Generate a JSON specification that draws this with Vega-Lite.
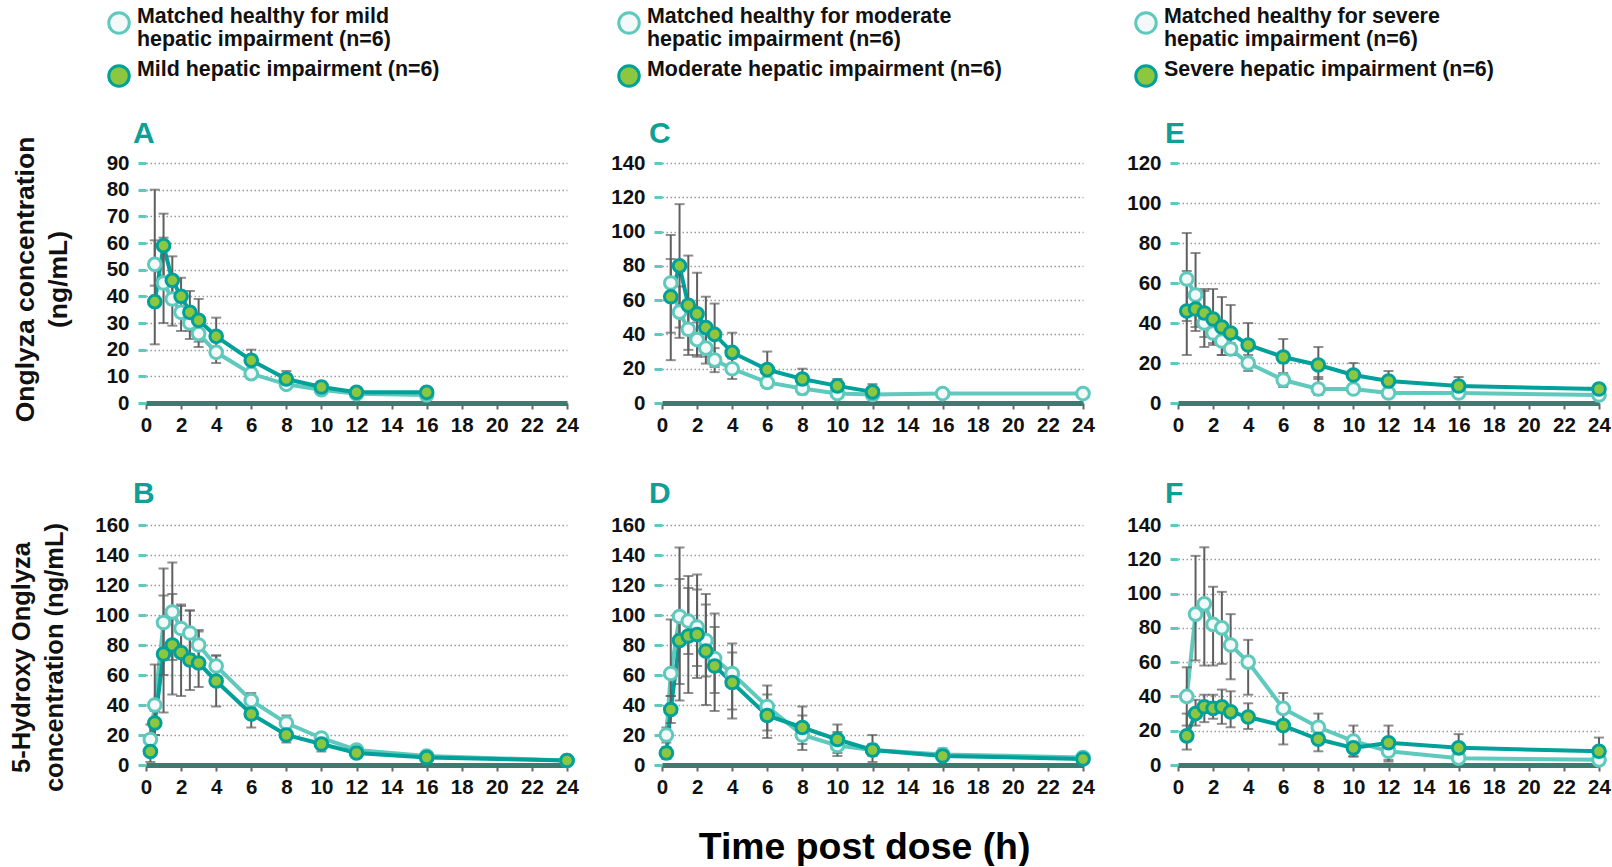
{
  "$schema": "https://vega.github.io/schema/vega-lite/v6.json",
  "padding": {"left": 9, "top": 11, "right": 2, "bottom": 0},
  "background": "white",
  "config": {
    "font": "Liberation Sans",
    "view": {"stroke": null},
    "axis": {"labelFont": "Liberation Sans", "labelFontSize": 20.5, "labelFontWeight": "bold", "labelColor": "#111", "titleFont": "Liberation Sans", "titleFontSize": 26.5, "titleFontWeight": "bold", "titleColor": "#111", "labelFlush": false, "labelOverlap": false},
    "axisX": {"domainColor": "#3d7b71", "domainWidth": 5, "tickColor": "#666", "tickSize": 6, "tickWidth": 2, "grid": false, "labelPadding": 6},
    "axisY": {"domain": false, "tickColor": "#5ec9bc", "tickWidth": 3, "tickSize": 8, "labelPadding": 9, "grid": true, "gridColor": "#9a9a9a", "gridDash": [1.5, 2.5], "gridWidth": 1.5, "titleLineHeight": 33},
    "title": {"font": "Liberation Sans", "fontSize": 30, "fontWeight": "bold", "color": "#0e9f97", "anchor": "start", "frame": "group", "dx": -13}
  },
  "datasets": {
    "pk": [
      {"panel":"A","series":"healthy","t":0.5,"y":52,"lo":44,"hi":61},
      {"panel":"A","series":"healthy","t":1,"y":45,"lo":30,"hi":62},
      {"panel":"A","series":"healthy","t":1.5,"y":39,"lo":29,"hi":47},
      {"panel":"A","series":"healthy","t":2,"y":34,"lo":27,"hi":41},
      {"panel":"A","series":"healthy","t":2.5,"y":30,"lo":24,"hi":36},
      {"panel":"A","series":"healthy","t":3,"y":26,"lo":21,"hi":31},
      {"panel":"A","series":"healthy","t":4,"y":19,"lo":15,"hi":23},
      {"panel":"A","series":"healthy","t":6,"y":11,"lo":9,"hi":13},
      {"panel":"A","series":"healthy","t":8,"y":7,"lo":6,"hi":9},
      {"panel":"A","series":"healthy","t":10,"y":5,"lo":4,"hi":6},
      {"panel":"A","series":"healthy","t":12,"y":3.5,"lo":3,"hi":4},
      {"panel":"A","series":"healthy","t":16,"y":3,"lo":2.5,"hi":3.5},
      {"panel":"A","series":"impaired","t":0.5,"y":38,"lo":22,"hi":80},
      {"panel":"A","series":"impaired","t":1,"y":59,"lo":47,"hi":71},
      {"panel":"A","series":"impaired","t":1.5,"y":46,"lo":37,"hi":55},
      {"panel":"A","series":"impaired","t":2,"y":40,"lo":33,"hi":47},
      {"panel":"A","series":"impaired","t":2.5,"y":34,"lo":27,"hi":42},
      {"panel":"A","series":"impaired","t":3,"y":31,"lo":23,"hi":39},
      {"panel":"A","series":"impaired","t":4,"y":25,"lo":18,"hi":32},
      {"panel":"A","series":"impaired","t":6,"y":16,"lo":12,"hi":20},
      {"panel":"A","series":"impaired","t":8,"y":9,"lo":6,"hi":12},
      {"panel":"A","series":"impaired","t":10,"y":6,"lo":4,"hi":8},
      {"panel":"A","series":"impaired","t":12,"y":4,"lo":3,"hi":5},
      {"panel":"A","series":"impaired","t":16,"y":4,"lo":3,"hi":5},

      {"panel":"B","series":"healthy","t":0.25,"y":17,"lo":10,"hi":27},
      {"panel":"B","series":"healthy","t":0.5,"y":40,"lo":20,"hi":67},
      {"panel":"B","series":"healthy","t":1,"y":95,"lo":60,"hi":131},
      {"panel":"B","series":"healthy","t":1.5,"y":102,"lo":70,"hi":114},
      {"panel":"B","series":"healthy","t":2,"y":91,"lo":75,"hi":107},
      {"panel":"B","series":"healthy","t":2.5,"y":88,"lo":74,"hi":103},
      {"panel":"B","series":"healthy","t":3,"y":80,"lo":70,"hi":90},
      {"panel":"B","series":"healthy","t":4,"y":66,"lo":58,"hi":73},
      {"panel":"B","series":"healthy","t":6,"y":43,"lo":38,"hi":48},
      {"panel":"B","series":"healthy","t":8,"y":28,"lo":24,"hi":33},
      {"panel":"B","series":"healthy","t":10,"y":18,"lo":15,"hi":21},
      {"panel":"B","series":"healthy","t":12,"y":10,"lo":8,"hi":12},
      {"panel":"B","series":"healthy","t":16,"y":6,"lo":5,"hi":7},
      {"panel":"B","series":"healthy","t":24,"y":3,"lo":2,"hi":4},
      {"panel":"B","series":"impaired","t":0.25,"y":9,"lo":2,"hi":16},
      {"panel":"B","series":"impaired","t":0.5,"y":28,"lo":20,"hi":36},
      {"panel":"B","series":"impaired","t":1,"y":74,"lo":35,"hi":113},
      {"panel":"B","series":"impaired","t":1.5,"y":80,"lo":47,"hi":135},
      {"panel":"B","series":"impaired","t":2,"y":75,"lo":46,"hi":106},
      {"panel":"B","series":"impaired","t":2.5,"y":70,"lo":50,"hi":103},
      {"panel":"B","series":"impaired","t":3,"y":68,"lo":52,"hi":89},
      {"panel":"B","series":"impaired","t":4,"y":56,"lo":39,"hi":73},
      {"panel":"B","series":"impaired","t":6,"y":34,"lo":25,"hi":43},
      {"panel":"B","series":"impaired","t":8,"y":20,"lo":15,"hi":25},
      {"panel":"B","series":"impaired","t":10,"y":14,"lo":9,"hi":19},
      {"panel":"B","series":"impaired","t":12,"y":8,"lo":6,"hi":10},
      {"panel":"B","series":"impaired","t":16,"y":5,"lo":4,"hi":6},
      {"panel":"B","series":"impaired","t":24,"y":3,"lo":2,"hi":4},

      {"panel":"C","series":"healthy","t":0.5,"y":70,"lo":41,"hi":84},
      {"panel":"C","series":"healthy","t":1,"y":53,"lo":38,"hi":68},
      {"panel":"C","series":"healthy","t":1.5,"y":43,"lo":31,"hi":55},
      {"panel":"C","series":"healthy","t":2,"y":37,"lo":27,"hi":47},
      {"panel":"C","series":"healthy","t":2.5,"y":32,"lo":23,"hi":41},
      {"panel":"C","series":"healthy","t":3,"y":25,"lo":18,"hi":32},
      {"panel":"C","series":"healthy","t":4,"y":20,"lo":14,"hi":26},
      {"panel":"C","series":"healthy","t":6,"y":12,"lo":9,"hi":15},
      {"panel":"C","series":"healthy","t":8,"y":8.5,"lo":5,"hi":12},
      {"panel":"C","series":"healthy","t":10,"y":5.5,"lo":3,"hi":8},
      {"panel":"C","series":"healthy","t":12,"y":5,"lo":4,"hi":6},
      {"panel":"C","series":"healthy","t":16,"y":5.5,"lo":4.5,"hi":6.5},
      {"panel":"C","series":"healthy","t":24,"y":5.5,"lo":4.5,"hi":6.5},
      {"panel":"C","series":"impaired","t":0.5,"y":62,"lo":25,"hi":98},
      {"panel":"C","series":"impaired","t":1,"y":80,"lo":44,"hi":116},
      {"panel":"C","series":"impaired","t":1.5,"y":57,"lo":28,"hi":86},
      {"panel":"C","series":"impaired","t":2,"y":52,"lo":28,"hi":76},
      {"panel":"C","series":"impaired","t":2.5,"y":44,"lo":27,"hi":62},
      {"panel":"C","series":"impaired","t":3,"y":40,"lo":21,"hi":58},
      {"panel":"C","series":"impaired","t":4,"y":29.5,"lo":18,"hi":41},
      {"panel":"C","series":"impaired","t":6,"y":19.5,"lo":9,"hi":30},
      {"panel":"C","series":"impaired","t":8,"y":14,"lo":8,"hi":20},
      {"panel":"C","series":"impaired","t":10,"y":10,"lo":6,"hi":14},
      {"panel":"C","series":"impaired","t":12,"y":6.5,"lo":2,"hi":11},

      {"panel":"D","series":"healthy","t":0.25,"y":20,"lo":15,"hi":25},
      {"panel":"D","series":"healthy","t":0.5,"y":61,"lo":46,"hi":97},
      {"panel":"D","series":"healthy","t":1,"y":99,"lo":54,"hi":145},
      {"panel":"D","series":"healthy","t":1.5,"y":96,"lo":74,"hi":118},
      {"panel":"D","series":"healthy","t":2,"y":92,"lo":66,"hi":117},
      {"panel":"D","series":"healthy","t":2.5,"y":83,"lo":59,"hi":107},
      {"panel":"D","series":"healthy","t":3,"y":71,"lo":48,"hi":92},
      {"panel":"D","series":"healthy","t":4,"y":61,"lo":37,"hi":75},
      {"panel":"D","series":"healthy","t":6,"y":39,"lo":23,"hi":53},
      {"panel":"D","series":"healthy","t":8,"y":20,"lo":10,"hi":33},
      {"panel":"D","series":"healthy","t":10,"y":13,"lo":6,"hi":22},
      {"panel":"D","series":"healthy","t":12,"y":10,"lo":6,"hi":14},
      {"panel":"D","series":"healthy","t":16,"y":7,"lo":5,"hi":11},
      {"panel":"D","series":"healthy","t":24,"y":5,"lo":4,"hi":6},
      {"panel":"D","series":"impaired","t":0.25,"y":8,"lo":4,"hi":12},
      {"panel":"D","series":"impaired","t":0.5,"y":37,"lo":28,"hi":46},
      {"panel":"D","series":"impaired","t":1,"y":83,"lo":43,"hi":124},
      {"panel":"D","series":"impaired","t":1.5,"y":86,"lo":48,"hi":126},
      {"panel":"D","series":"impaired","t":2,"y":87,"lo":58,"hi":127},
      {"panel":"D","series":"impaired","t":2.5,"y":76,"lo":40,"hi":114},
      {"panel":"D","series":"impaired","t":3,"y":66,"lo":36,"hi":101},
      {"panel":"D","series":"impaired","t":4,"y":55,"lo":31,"hi":81},
      {"panel":"D","series":"impaired","t":6,"y":33,"lo":18,"hi":47},
      {"panel":"D","series":"impaired","t":8,"y":25,"lo":14,"hi":39},
      {"panel":"D","series":"impaired","t":10,"y":17,"lo":8,"hi":27},
      {"panel":"D","series":"impaired","t":12,"y":10,"lo":2,"hi":20},
      {"panel":"D","series":"impaired","t":16,"y":6,"lo":4,"hi":8},
      {"panel":"D","series":"impaired","t":24,"y":4,"lo":3,"hi":5},

      {"panel":"E","series":"healthy","t":0.5,"y":62,"lo":41,"hi":85},
      {"panel":"E","series":"healthy","t":1,"y":54,"lo":36,"hi":75},
      {"panel":"E","series":"healthy","t":1.5,"y":40,"lo":28,"hi":56},
      {"panel":"E","series":"healthy","t":2,"y":35,"lo":29,"hi":41},
      {"panel":"E","series":"healthy","t":2.5,"y":31,"lo":24,"hi":38},
      {"panel":"E","series":"healthy","t":3,"y":27,"lo":24,"hi":30},
      {"panel":"E","series":"healthy","t":4,"y":20,"lo":16,"hi":24},
      {"panel":"E","series":"healthy","t":6,"y":11.5,"lo":8,"hi":15},
      {"panel":"E","series":"healthy","t":8,"y":7,"lo":4,"hi":13},
      {"panel":"E","series":"healthy","t":10,"y":7,"lo":5,"hi":9},
      {"panel":"E","series":"healthy","t":12,"y":5,"lo":4,"hi":6},
      {"panel":"E","series":"healthy","t":16,"y":5,"lo":4,"hi":6},
      {"panel":"E","series":"healthy","t":24,"y":4,"lo":3,"hi":5},
      {"panel":"E","series":"impaired","t":0.5,"y":46,"lo":24,"hi":66},
      {"panel":"E","series":"impaired","t":1,"y":47,"lo":38,"hi":56},
      {"panel":"E","series":"impaired","t":1.5,"y":45,"lo":33,"hi":57},
      {"panel":"E","series":"impaired","t":2,"y":42,"lo":30,"hi":57},
      {"panel":"E","series":"impaired","t":2.5,"y":38,"lo":24,"hi":53},
      {"panel":"E","series":"impaired","t":3,"y":35,"lo":24,"hi":49},
      {"panel":"E","series":"impaired","t":4,"y":29,"lo":20,"hi":40},
      {"panel":"E","series":"impaired","t":6,"y":23,"lo":14,"hi":32},
      {"panel":"E","series":"impaired","t":8,"y":19,"lo":12,"hi":28},
      {"panel":"E","series":"impaired","t":10,"y":14,"lo":8,"hi":20},
      {"panel":"E","series":"impaired","t":12,"y":11,"lo":6,"hi":16},
      {"panel":"E","series":"impaired","t":16,"y":8.5,"lo":4,"hi":13},
      {"panel":"E","series":"impaired","t":24,"y":7,"lo":5,"hi":9},

      {"panel":"F","series":"healthy","t":0.5,"y":40,"lo":23,"hi":57},
      {"panel":"F","series":"healthy","t":1,"y":88,"lo":61,"hi":122},
      {"panel":"F","series":"healthy","t":1.5,"y":94,"lo":58,"hi":127},
      {"panel":"F","series":"healthy","t":2,"y":82,"lo":58,"hi":104},
      {"panel":"F","series":"healthy","t":2.5,"y":80,"lo":59,"hi":101},
      {"panel":"F","series":"healthy","t":3,"y":70,"lo":50,"hi":88},
      {"panel":"F","series":"healthy","t":4,"y":60,"lo":41,"hi":73},
      {"panel":"F","series":"healthy","t":6,"y":33,"lo":24,"hi":42},
      {"panel":"F","series":"healthy","t":8,"y":22,"lo":14,"hi":30},
      {"panel":"F","series":"healthy","t":10,"y":14,"lo":5,"hi":23},
      {"panel":"F","series":"healthy","t":12,"y":8,"lo":2,"hi":14},
      {"panel":"F","series":"healthy","t":16,"y":4,"lo":2,"hi":6},
      {"panel":"F","series":"healthy","t":24,"y":3,"lo":2,"hi":4},
      {"panel":"F","series":"impaired","t":0.5,"y":17,"lo":9,"hi":30},
      {"panel":"F","series":"impaired","t":1,"y":30,"lo":23,"hi":38},
      {"panel":"F","series":"impaired","t":1.5,"y":34,"lo":25,"hi":41},
      {"panel":"F","series":"impaired","t":2,"y":33,"lo":27,"hi":41},
      {"panel":"F","series":"impaired","t":2.5,"y":34,"lo":24,"hi":44},
      {"panel":"F","series":"impaired","t":3,"y":31,"lo":22,"hi":43},
      {"panel":"F","series":"impaired","t":4,"y":28,"lo":21,"hi":36},
      {"panel":"F","series":"impaired","t":6,"y":23,"lo":12,"hi":33},
      {"panel":"F","series":"impaired","t":8,"y":15,"lo":8,"hi":22},
      {"panel":"F","series":"impaired","t":10,"y":10,"lo":5,"hi":15},
      {"panel":"F","series":"impaired","t":12,"y":13,"lo":3,"hi":23},
      {"panel":"F","series":"impaired","t":16,"y":10,"lo":2,"hi":18},
      {"panel":"F","series":"impaired","t":24,"y":8,"lo":0,"hi":16}
    ]
  },
  "data": {"name": "pk"},
  "title": {"text": "Time post dose (h)", "orient": "bottom", "anchor": "middle", "frame": "bounds", "fontSize": 37.4, "fontWeight": "bold", "color": "#000", "dx": 54, "offset": 31},
  "columns": 3,
  "spacing": {"row": 122, "column": 95},
  "bounds": "flush",
  "resolve": {"scale": {"x": "independent", "y": "independent", "fill": "independent", "stroke": "independent"}, "legend": {"fill": "independent", "stroke": "independent"}},
  "concat": [
    {
      "width": 421, "height": 240,
      "title": {"text": "A", "offset": -138},
      "transform": [{"filter": "datum.panel === 'A'"}],
      "encoding": {"x": {"field": "t", "type": "quantitative", "scale": {"domain": [0, 24], "nice": false}, "axis": {"values": [0,2,4,6,8,10,12,14,16,18,20,22,24], "title": null}}},
      "layer": [
        {"mark": {"type": "line", "strokeWidth": 4},
         "encoding": {"y": {"field": "y", "type": "quantitative", "scale": {"domain": [0, 90], "nice": false}, "axis": {"values": [0,10,20,30,40,50,60,70,80,90], "title": ["Onglyza concentration", "(ng/mL)"], "titlePadding": 34, "titleY": 116}},
           "stroke": {"field": "series", "type": "nominal", "scale": {"domain": ["healthy", "impaired"], "range": ["#5ec9bc", "#00a19a"]}}}},
        {"mark": {"type": "errorbar", "color": "#5f5f5f", "thickness": 2, "ticks": {"size": 10, "thickness": 2, "color": "#5f5f5f"}},
         "encoding": {"y": {"field": "lo", "type": "quantitative", "scale": {"domain": [0, 90], "nice": false}, "axis": {"values": [0,10,20,30,40,50,60,70,80,90], "title": ["Onglyza concentration", "(ng/mL)"], "titlePadding": 34, "titleY": 116}}, "y2": {"field": "hi"}}},
        {"mark": {"type": "point", "shape": "circle", "filled": true, "size": 160, "strokeWidth": 3, "opacity": 1},
         "encoding": {"y": {"field": "y", "type": "quantitative", "scale": {"domain": [0, 90], "nice": false}, "axis": {"values": [0,10,20,30,40,50,60,70,80,90], "title": ["Onglyza concentration", "(ng/mL)"], "titlePadding": 34, "titleY": 116}},
           "fill": {"field": "series", "type": "nominal", "scale": {"domain": ["healthy", "impaired"], "range": ["#f2f9f8", "#8dc63f"]},
             "legend": {"orient": "none", "legendX": -39, "legendY": -152, "title": null, "padding": 0, "symbolType": "circle", "symbolSize": 420, "symbolStrokeWidth": 3, "labelFont": "Liberation Sans", "labelFontSize": 21.4, "labelFontWeight": "bold", "labelColor": "#111", "labelLimit": 700, "labelOffset": 6, "rowPadding": 8, "labelBaseline": "alphabetic",
               "labelExpr": "datum.value === 'healthy' ? ['Matched healthy for mild', 'hepatic impairment (n=6)'] : 'Mild hepatic impairment (n=6)'"}},
           "stroke": {"field": "series", "type": "nominal", "scale": {"domain": ["healthy", "impaired"], "range": ["#5ec9bc", "#00a19a"]},
             "legend": {"orient": "none", "legendX": -39, "legendY": -152, "title": null, "padding": 0, "symbolType": "circle", "symbolSize": 420, "symbolStrokeWidth": 3, "labelFont": "Liberation Sans", "labelFontSize": 21.4, "labelFontWeight": "bold", "labelColor": "#111", "labelLimit": 700, "labelOffset": 6, "rowPadding": 8, "labelBaseline": "alphabetic",
               "labelExpr": "datum.value === 'healthy' ? ['Matched healthy for mild', 'hepatic impairment (n=6)'] : 'Mild hepatic impairment (n=6)'"}}}}
      ]
    },
    {
      "width": 421, "height": 240,
      "title": {"text": "C", "offset": -138},
      "transform": [{"filter": "datum.panel === 'C'"}],
      "encoding": {"x": {"field": "t", "type": "quantitative", "scale": {"domain": [0, 24], "nice": false}, "axis": {"values": [0,2,4,6,8,10,12,14,16,18,20,22,24], "title": null}}},
      "layer": [
        {"mark": {"type": "line", "strokeWidth": 4},
         "encoding": {"y": {"field": "y", "type": "quantitative", "scale": {"domain": [0, 140], "nice": false}, "axis": {"values": [0,20,40,60,80,100,120,140], "title": null}},
           "stroke": {"field": "series", "type": "nominal", "scale": {"domain": ["healthy", "impaired"], "range": ["#5ec9bc", "#00a19a"]}}}},
        {"mark": {"type": "errorbar", "color": "#5f5f5f", "thickness": 2, "ticks": {"size": 10, "thickness": 2, "color": "#5f5f5f"}},
         "encoding": {"y": {"field": "lo", "type": "quantitative", "scale": {"domain": [0, 140], "nice": false}, "axis": {"values": [0,20,40,60,80,100,120,140], "title": null}}, "y2": {"field": "hi"}}},
        {"mark": {"type": "point", "shape": "circle", "filled": true, "size": 160, "strokeWidth": 3, "opacity": 1},
         "encoding": {"y": {"field": "y", "type": "quantitative", "scale": {"domain": [0, 140], "nice": false}, "axis": {"values": [0,20,40,60,80,100,120,140], "title": null}},
           "fill": {"field": "series", "type": "nominal", "scale": {"domain": ["healthy", "impaired"], "range": ["#f2f9f8", "#8dc63f"]},
             "legend": {"orient": "none", "legendX": -45, "legendY": -152, "title": null, "padding": 0, "symbolType": "circle", "symbolSize": 420, "symbolStrokeWidth": 3, "labelFont": "Liberation Sans", "labelFontSize": 21.4, "labelFontWeight": "bold", "labelColor": "#111", "labelLimit": 700, "labelOffset": 6, "rowPadding": 8, "labelBaseline": "alphabetic",
               "labelExpr": "datum.value === 'healthy' ? ['Matched healthy for moderate', 'hepatic impairment (n=6)'] : 'Moderate hepatic impairment (n=6)'"}},
           "stroke": {"field": "series", "type": "nominal", "scale": {"domain": ["healthy", "impaired"], "range": ["#5ec9bc", "#00a19a"]},
             "legend": {"orient": "none", "legendX": -45, "legendY": -152, "title": null, "padding": 0, "symbolType": "circle", "symbolSize": 420, "symbolStrokeWidth": 3, "labelFont": "Liberation Sans", "labelFontSize": 21.4, "labelFontWeight": "bold", "labelColor": "#111", "labelLimit": 700, "labelOffset": 6, "rowPadding": 8, "labelBaseline": "alphabetic",
               "labelExpr": "datum.value === 'healthy' ? ['Matched healthy for moderate', 'hepatic impairment (n=6)'] : 'Moderate hepatic impairment (n=6)'"}}}}
      ]
    },
    {
      "width": 421, "height": 240,
      "title": {"text": "E", "offset": -138},
      "transform": [{"filter": "datum.panel === 'E'"}],
      "encoding": {"x": {"field": "t", "type": "quantitative", "scale": {"domain": [0, 24], "nice": false}, "axis": {"values": [0,2,4,6,8,10,12,14,16,18,20,22,24], "title": null}}},
      "layer": [
        {"mark": {"type": "line", "strokeWidth": 4},
         "encoding": {"y": {"field": "y", "type": "quantitative", "scale": {"domain": [0, 120], "nice": false}, "axis": {"values": [0,20,40,60,80,100,120], "title": null}},
           "stroke": {"field": "series", "type": "nominal", "scale": {"domain": ["healthy", "impaired"], "range": ["#5ec9bc", "#00a19a"]}}}},
        {"mark": {"type": "errorbar", "color": "#5f5f5f", "thickness": 2, "ticks": {"size": 10, "thickness": 2, "color": "#5f5f5f"}},
         "encoding": {"y": {"field": "lo", "type": "quantitative", "scale": {"domain": [0, 120], "nice": false}, "axis": {"values": [0,20,40,60,80,100,120], "title": null}}, "y2": {"field": "hi"}}},
        {"mark": {"type": "point", "shape": "circle", "filled": true, "size": 160, "strokeWidth": 3, "opacity": 1},
         "encoding": {"y": {"field": "y", "type": "quantitative", "scale": {"domain": [0, 120], "nice": false}, "axis": {"values": [0,20,40,60,80,100,120], "title": null}},
           "fill": {"field": "series", "type": "nominal", "scale": {"domain": ["healthy", "impaired"], "range": ["#f2f9f8", "#8dc63f"]},
             "legend": {"orient": "none", "legendX": -44, "legendY": -152, "title": null, "padding": 0, "symbolType": "circle", "symbolSize": 420, "symbolStrokeWidth": 3, "labelFont": "Liberation Sans", "labelFontSize": 21.4, "labelFontWeight": "bold", "labelColor": "#111", "labelLimit": 700, "labelOffset": 6, "rowPadding": 8, "labelBaseline": "alphabetic",
               "labelExpr": "datum.value === 'healthy' ? ['Matched healthy for severe', 'hepatic impairment (n=6)'] : 'Severe hepatic impairment (n=6)'"}},
           "stroke": {"field": "series", "type": "nominal", "scale": {"domain": ["healthy", "impaired"], "range": ["#5ec9bc", "#00a19a"]},
             "legend": {"orient": "none", "legendX": -44, "legendY": -152, "title": null, "padding": 0, "symbolType": "circle", "symbolSize": 420, "symbolStrokeWidth": 3, "labelFont": "Liberation Sans", "labelFontSize": 21.4, "labelFontWeight": "bold", "labelColor": "#111", "labelLimit": 700, "labelOffset": 6, "rowPadding": 8, "labelBaseline": "alphabetic",
               "labelExpr": "datum.value === 'healthy' ? ['Matched healthy for severe', 'hepatic impairment (n=6)'] : 'Severe hepatic impairment (n=6)'"}}}}
      ]
    },
    {
      "width": 421, "height": 240,
      "title": {"text": "B", "offset": 6},
      "transform": [{"filter": "datum.panel === 'B'"}],
      "encoding": {"x": {"field": "t", "type": "quantitative", "scale": {"domain": [0, 24], "nice": false}, "axis": {"values": [0,2,4,6,8,10,12,14,16,18,20,22,24], "title": null}}},
      "layer": [
        {"mark": {"type": "line", "strokeWidth": 4},
         "encoding": {"y": {"field": "y", "type": "quantitative", "scale": {"domain": [0, 160], "nice": false}, "axis": {"values": [0,20,40,60,80,100,120,140,160], "title": ["5-Hydroxy Onglyza", "concentration (ng/mL)"], "titlePadding": 27, "titleFontSize": 25.5, "titleY": 132}},
           "stroke": {"field": "series", "type": "nominal", "scale": {"domain": ["healthy", "impaired"], "range": ["#5ec9bc", "#00a19a"]}, "legend": null}}},
        {"mark": {"type": "errorbar", "color": "#5f5f5f", "thickness": 2, "ticks": {"size": 10, "thickness": 2, "color": "#5f5f5f"}},
         "encoding": {"y": {"field": "lo", "type": "quantitative", "scale": {"domain": [0, 160], "nice": false}, "axis": {"values": [0,20,40,60,80,100,120,140,160], "title": ["5-Hydroxy Onglyza", "concentration (ng/mL)"], "titlePadding": 27, "titleFontSize": 25.5, "titleY": 132}}, "y2": {"field": "hi"}}},
        {"mark": {"type": "point", "shape": "circle", "filled": true, "size": 160, "strokeWidth": 3, "opacity": 1},
         "encoding": {"y": {"field": "y", "type": "quantitative", "scale": {"domain": [0, 160], "nice": false}, "axis": {"values": [0,20,40,60,80,100,120,140,160], "title": ["5-Hydroxy Onglyza", "concentration (ng/mL)"], "titlePadding": 27, "titleFontSize": 25.5, "titleY": 132}},
           "fill": {"field": "series", "type": "nominal", "scale": {"domain": ["healthy", "impaired"], "range": ["#f2f9f8", "#8dc63f"]}, "legend": null},
           "stroke": {"field": "series", "type": "nominal", "scale": {"domain": ["healthy", "impaired"], "range": ["#5ec9bc", "#00a19a"]}, "legend": null}}}
      ]
    },
    {
      "width": 421, "height": 240,
      "title": {"text": "D", "offset": 6},
      "transform": [{"filter": "datum.panel === 'D'"}],
      "encoding": {"x": {"field": "t", "type": "quantitative", "scale": {"domain": [0, 24], "nice": false}, "axis": {"values": [0,2,4,6,8,10,12,14,16,18,20,22,24], "title": null}}},
      "layer": [
        {"mark": {"type": "line", "strokeWidth": 4},
         "encoding": {"y": {"field": "y", "type": "quantitative", "scale": {"domain": [0, 160], "nice": false}, "axis": {"values": [0,20,40,60,80,100,120,140,160], "title": null}},
           "stroke": {"field": "series", "type": "nominal", "scale": {"domain": ["healthy", "impaired"], "range": ["#5ec9bc", "#00a19a"]}, "legend": null}}},
        {"mark": {"type": "errorbar", "color": "#5f5f5f", "thickness": 2, "ticks": {"size": 10, "thickness": 2, "color": "#5f5f5f"}},
         "encoding": {"y": {"field": "lo", "type": "quantitative", "scale": {"domain": [0, 160], "nice": false}, "axis": {"values": [0,20,40,60,80,100,120,140,160], "title": null}}, "y2": {"field": "hi"}}},
        {"mark": {"type": "point", "shape": "circle", "filled": true, "size": 160, "strokeWidth": 3, "opacity": 1},
         "encoding": {"y": {"field": "y", "type": "quantitative", "scale": {"domain": [0, 160], "nice": false}, "axis": {"values": [0,20,40,60,80,100,120,140,160], "title": null}},
           "fill": {"field": "series", "type": "nominal", "scale": {"domain": ["healthy", "impaired"], "range": ["#f2f9f8", "#8dc63f"]}, "legend": null},
           "stroke": {"field": "series", "type": "nominal", "scale": {"domain": ["healthy", "impaired"], "range": ["#5ec9bc", "#00a19a"]}, "legend": null}}}
      ]
    },
    {
      "width": 421, "height": 240,
      "title": {"text": "F", "offset": 6},
      "transform": [{"filter": "datum.panel === 'F'"}],
      "encoding": {"x": {"field": "t", "type": "quantitative", "scale": {"domain": [0, 24], "nice": false}, "axis": {"values": [0,2,4,6,8,10,12,14,16,18,20,22,24], "title": null}}},
      "layer": [
        {"mark": {"type": "line", "strokeWidth": 4},
         "encoding": {"y": {"field": "y", "type": "quantitative", "scale": {"domain": [0, 140], "nice": false}, "axis": {"values": [0,20,40,60,80,100,120,140], "title": null}},
           "stroke": {"field": "series", "type": "nominal", "scale": {"domain": ["healthy", "impaired"], "range": ["#5ec9bc", "#00a19a"]}, "legend": null}}},
        {"mark": {"type": "errorbar", "color": "#5f5f5f", "thickness": 2, "ticks": {"size": 10, "thickness": 2, "color": "#5f5f5f"}},
         "encoding": {"y": {"field": "lo", "type": "quantitative", "scale": {"domain": [0, 140], "nice": false}, "axis": {"values": [0,20,40,60,80,100,120,140], "title": null}}, "y2": {"field": "hi"}}},
        {"mark": {"type": "point", "shape": "circle", "filled": true, "size": 160, "strokeWidth": 3, "opacity": 1},
         "encoding": {"y": {"field": "y", "type": "quantitative", "scale": {"domain": [0, 140], "nice": false}, "axis": {"values": [0,20,40,60,80,100,120,140], "title": null}},
           "fill": {"field": "series", "type": "nominal", "scale": {"domain": ["healthy", "impaired"], "range": ["#f2f9f8", "#8dc63f"]}, "legend": null},
           "stroke": {"field": "series", "type": "nominal", "scale": {"domain": ["healthy", "impaired"], "range": ["#5ec9bc", "#00a19a"]}, "legend": null}}}
      ]
    }
  ]
}
